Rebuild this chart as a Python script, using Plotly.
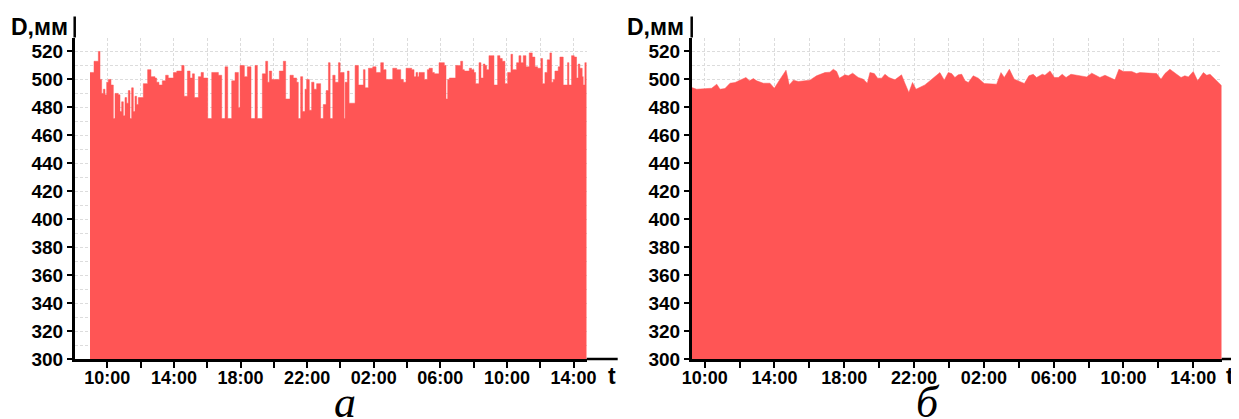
import plotly.graph_objects as go

# ---------------- data ----------------
# time in hours from midnight of day 1 (values > 24 are day 2)
left_t = [8.96, 9.20, 9.46, 9.56, 9.66, 9.76, 9.86, 9.96, 10.06, 10.22, 10.36, 10.46, 10.66, 10.76, 10.86,
          10.96, 11.06, 11.16, 11.26, 11.36, 11.46, 11.56, 11.66, 11.76, 11.86, 12.16, 12.42, 12.62, 12.86,
          12.96, 13.10, 13.30, 13.50, 13.66, 13.97, 14.17, 14.47, 14.61, 14.81, 14.97, 15.11, 15.23, 15.47,
          15.63, 15.77, 16.03, 16.27, 16.67, 16.87, 17.07, 17.23, 17.47, 17.67, 17.87, 17.97, 18.23, 18.41,
          18.63, 18.87, 19.01, 19.31, 19.51, 19.63, 19.73, 19.87, 20.33, 20.57, 20.71, 20.97, 21.17, 21.37,
          21.47, 21.61, 21.73, 21.87, 21.97, 22.13, 22.27, 22.41, 22.57, 22.81, 22.97, 23.14, 23.28, 23.38,
          23.54, 23.68, 23.88, 23.98, 24.22, 24.28, 24.42, 24.52, 24.88, 25.08, 25.38, 25.48, 25.68, 25.94,
          26.14, 26.42, 26.58, 26.74, 27.14, 27.38, 27.62, 27.78, 27.94, 28.28, 28.42, 28.54, 28.64, 28.72,
          29.04, 29.22, 29.32, 29.52, 29.64, 29.92, 30.24, 30.34, 30.44, 30.54, 30.92, 31.22, 31.34, 31.44,
          31.74, 31.88, 32.02, 32.12, 32.32, 32.44, 32.58, 32.68, 32.78, 32.92, 33.22, 33.44, 33.58, 33.72,
          33.88, 34.04, 34.24, 34.34, 34.58, 34.72, 34.84, 34.98, 35.14, 35.34, 35.52, 35.68, 35.84, 36.04,
          36.14, 36.28, 36.42, 36.58, 36.68, 36.78, 36.88, 37.08, 37.18, 37.38, 37.64, 37.72, 37.88, 38.04,
          38.18, 38.28, 38.38, 38.52, 38.58, 38.68, 38.79]
left_d = [505, 513, 520, 500, 490, 493, 489, 498, 500, 496, 472, 490, 489, 477, 484,
          474, 487, 483, 492, 472, 494, 477, 488, 482, 487, 497, 507, 502, 501,
          498, 496, 499, 503, 501, 505, 506, 510, 488, 506, 501, 504, 487, 502,
          505, 501, 472, 505, 503, 472, 509, 472, 499, 505, 480, 510, 502, 509,
          472, 510, 472, 504, 513, 498, 506, 500, 506, 513, 486, 503, 501, 498,
          472, 502, 477, 493, 500, 478, 498, 493, 497, 472, 482, 492, 512, 472,
          503, 498, 512, 505, 472, 498, 506, 483, 510, 496, 507, 494, 508, 509,
          505, 512, 507, 500, 508, 507, 500, 498, 508, 507, 502, 505, 502, 505,
          500, 507, 508, 505, 504, 512, 510, 486, 500, 501, 510, 513, 507, 506,
          508, 507, 505, 497, 512, 501, 511, 510, 507, 517, 496, 517, 515, 513,
          497, 505, 518, 507, 512, 517, 512, 517, 509, 519, 516, 509, 508, 515,
          497, 505, 514, 519, 498, 500, 506, 509, 516, 496, 512, 496, 517, 516,
          501, 511, 508, 502, 496, 512, 512]

right_t = [9.255, 9.54, 10.40, 10.69, 10.88, 11.16, 11.45, 11.74, 12.02, 12.37, 12.56, 12.79, 12.98, 13.36,
           13.74, 13.99, 14.32, 14.66, 14.85, 15.08, 15.37, 16.03, 16.41, 16.89, 17.18, 17.37, 17.56, 17.72,
           18.04, 18.23, 18.48, 18.80, 19.09, 19.32, 19.47, 19.72, 19.91, 20.14, 20.33, 20.56, 20.90, 21.28,
           21.48, 21.70, 21.91, 22.11, 22.62, 23.48, 23.73, 23.96, 24.15, 24.34, 24.53, 24.73, 24.92, 25.11,
           25.39, 25.68, 26.02, 26.73, 26.98, 27.17, 27.46, 27.74, 28.32, 28.58, 28.83, 29.02, 29.35, 29.50,
           29.79, 30.04, 30.27, 30.49, 30.71, 30.99, 31.89, 32.18, 32.41, 32.65, 32.94, 33.23, 33.51, 33.74,
           33.99, 34.47, 34.75, 34.94, 35.90, 36.15, 36.38, 36.66, 36.95, 37.30, 37.52, 37.72, 38.00, 38.25,
           38.58, 38.77, 38.96, 39.15, 39.63]
right_d = [494.2, 493.0, 493.7, 496.6, 493.0, 493.5, 497.3, 497.8, 499.5, 501.4, 499.0, 500.6, 499.0, 497.3,
           497.3, 493.7, 500.2, 506.6, 496.1, 499.5, 498.5, 499.5, 502.6, 504.9, 505.2, 507.3, 505.7, 500.9,
           503.3, 502.6, 504.5, 501.4, 500.2, 497.3, 504.9, 504.2, 500.9, 500.9, 503.7, 501.4, 499.7, 503.3,
           497.1, 490.6, 497.8, 493.0, 496.1, 504.9, 499.5, 504.9, 504.2, 501.4, 503.3, 503.7, 499.0, 497.8,
           502.6, 500.9, 497.1, 496.6, 504.9, 501.4, 507.3, 500.2, 497.1, 502.6, 503.7, 501.4, 503.7, 503.0,
           506.1, 501.4, 501.4, 503.7, 501.4, 503.7, 501.8, 504.5, 503.0, 501.4, 503.0, 501.4, 499.7, 507.3,
           505.7, 505.7, 504.2, 504.9, 504.2, 500.2, 504.2, 507.3, 504.9, 501.4, 502.6, 501.8, 505.7, 499.0,
           504.9, 503.0, 503.7, 501.4, 495.4]

x_tickvals = [10, 14, 18, 22, 26, 30, 34, 38]
x_ticktext = ["10:00", "14:00", "18:00", "22:00", "02:00", "06:00", "10:00", "14:00"]
x_minorvals = [12, 16, 20, 24, 28, 32, 36]
y_tickvals = [300, 320, 340, 360, 380, 400, 420, 440, 460, 480, 500, 520]
y_minorvals = [310, 330, 350, 370, 390, 410, 430, 450, 470, 490, 510, 530]
y_label = "D,мм"
x_label = "t"
captions = ["а", "б"]

# ---------------- layout helpers ----------------
# the page body has an 8px margin, so the figure is drawn 8px right/down of the window corner
OFF = 8
W, H = 1239 - OFF, 419 - OFF
FILL = "#FF5555"
GRID = "#dcdcdc"
FONT = "Liberation Sans, Arial, sans-serif"


def px(x):
    return (x - OFF) / W


def py(y):
    return 1 - (y - OFF) / H


left_dom = [px(74.7), px(586.7)]
right_dom = [px(691.7), px(1221.7)]
y_dom = [py(359), py(37.5)]

fig = go.Figure()
fig.add_trace(go.Scatter(x=left_t, y=left_d, mode="lines", line=dict(shape="hv", width=0.5, color=FILL),
                         fill="tozeroy", fillcolor=FILL, xaxis="x", yaxis="y", showlegend=False,
                         hoverinfo="skip"))
fig.add_trace(go.Scatter(x=right_t, y=right_d, mode="lines", line=dict(width=0.5, color=FILL),
                         fill="tozeroy", fillcolor=FILL, xaxis="x2", yaxis="y2", showlegend=False,
                         hoverinfo="skip"))


def xaxis(dom, rng, anchor):
    return dict(domain=dom, range=rng, anchor=anchor, automargin=False, tickmode="array",
                tickvals=x_tickvals, ticktext=x_ticktext, ticks="outside", ticklen=6, tickwidth=2,
                tickcolor="black", showline=True, linecolor="black", linewidth=2.5, showgrid=True,
                gridcolor=GRID, griddash="3px,2px", gridwidth=1, zeroline=False,
                ticklabelstandoff=-5,
                tickfont=dict(family=FONT, size=18, color="black", weight="bold"),
                minor=dict(tickmode="array", tickvals=x_minorvals, ticks="outside", ticklen=6,
                           tickwidth=2, tickcolor="black", showgrid=True, gridcolor=GRID,
                           griddash="3px,2px", gridwidth=1))


def yaxis(anchor):
    return dict(domain=y_dom, range=[300, 530], anchor=anchor, automargin=False, tickmode="array",
                tickvals=y_tickvals, ticks="outside", ticklen=5, tickwidth=2, tickcolor="black",
                showline=True, linecolor="black", linewidth=2.5, showgrid=True, gridcolor=GRID,
                griddash="3px,2px", gridwidth=1, zeroline=False,
                tickfont=dict(family=FONT, size=19, color="black", weight="bold"),
                minor=dict(tickmode="array", tickvals=y_minorvals, ticks="", showgrid=True,
                           gridcolor=GRID, griddash="3px,2px", gridwidth=1))


fig.update_layout(
    width=W, height=H, margin=dict(l=0, r=0, t=0, b=0, autoexpand=False),
    paper_bgcolor="white", plot_bgcolor="white", showlegend=False,
    xaxis=xaxis(left_dom, [8.04, 38.79], "y"),
    yaxis=yaxis("x"),
    xaxis2=xaxis(right_dom, [9.255, 39.63], "y2"),
    yaxis2=yaxis("x2"),
)

# axis line extensions (beyond plot area, as in the reference)
shapes = []
for dom, xend in [(left_dom, px(617.7)), (right_dom, 1.0)]:
    shapes.append(dict(type="line", xref="paper", yref="paper", x0=dom[1], x1=xend, y0=y_dom[0], y1=y_dom[0],
                       line=dict(color="black", width=2.5)))
    shapes.append(dict(type="line", xref="paper", yref="paper", x0=dom[0], x1=dom[0], y0=y_dom[1],
                       y1=py(16.5), line=dict(color="black", width=2.5)))
fig.update_layout(shapes=shapes)

ann = []
common = dict(xref="paper", yref="paper", showarrow=False, xanchor="center", yanchor="middle")
for xc in [39, 655]:
    ann.append(dict(text=y_label, x=px(xc), y=py(27),
                    font=dict(family=FONT, size=23, color="black", weight="bold"), **common))
for xc in [612, 1230]:
    ann.append(dict(text=x_label, x=px(xc), y=py(376),
                    font=dict(family=FONT, size=23, color="black", weight="bold"), **common))
for xc, cap in zip([345, 928], captions):
    ann.append(dict(text=cap, x=px(xc), y=py(402),
                    font=dict(family="Liberation Serif, Times New Roman, serif", size=44, color="black",
                              style="italic"), **common))
fig.update_layout(annotations=ann)

fig.write_html("out.html")
